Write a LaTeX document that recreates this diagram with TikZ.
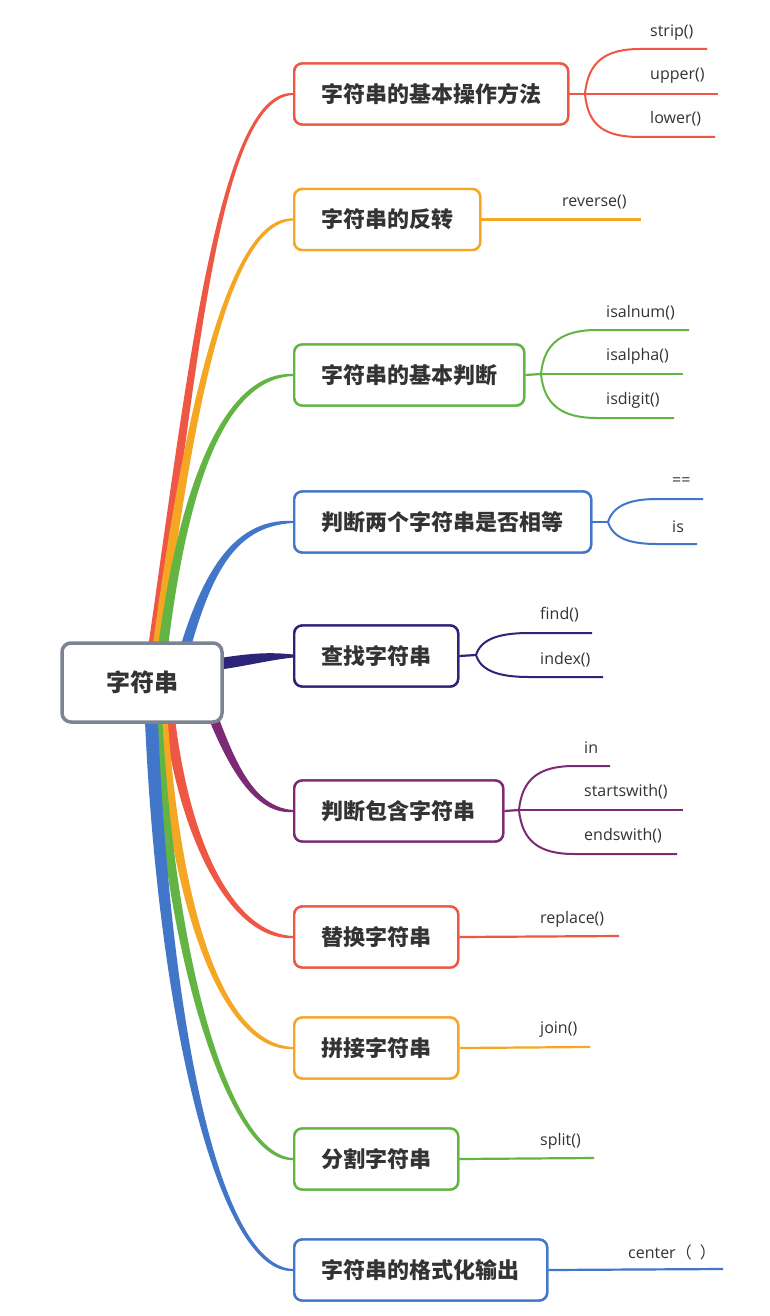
\documentclass[tikz,border=0pt]{standalone}
\usepackage{fontspec}
\setmainfont{Open Sans}
\newfontfamily\cjk{Noto Sans CJK SC}
\usetikzlibrary{calc}
\definecolor{cred}{HTML}{EE5744}
\definecolor{corange}{HTML}{F5A623}
\definecolor{cgreen}{HTML}{62B543}
\definecolor{cblue}{HTML}{4176C8}
\definecolor{cnavy}{HTML}{2C2476}
\definecolor{cpurple}{HTML}{7B2A73}
\definecolor{cgray}{HTML}{7C8393}
\definecolor{ctext}{HTML}{333333}
% #1 colour, #2 x0, #3 y0, #4 c1x, #5 c1y, #6 node, #7 c2 distance, #8 half width at root, #9 signed half width at end
\newcommand\trunk[9]{%
  \fill[#1] ({#2-#8},#3) .. controls ({#4-#8},#5) and ($(#6.west)+(-#7,{4.5*(#9)})$) .. ($(#6.west)+(0,#9)$)
    -- ($(#6.west)+(0,{-(#9)})$) .. controls ($(#6.west)+(-#7,{-4.5*(#9)})$) and ({#4+#8},#5) .. ({#2+#8},#3) -- cycle;}
\tikzset{
  box/.style={draw, line width=2.4pt, rounded corners=8pt, fill=white, minimum height=61pt,
    inner sep=0pt, font=\cjk\bfseries\fontsize{22}{22}\selectfont, text=ctext, anchor=west},
  leaf/.style={inner sep=0pt, anchor=west, text=ctext, font=\fontsize{16}{16}\selectfont},
  stub/.style={line width=2.2pt},
  leafline/.style={line width=2pt}
}
\begin{document}
\begin{tikzpicture}[x=1pt,y=-1pt]
\useasboundingbox[fill=white] (0,0) rectangle (770,1316);
% branch boxes (named first so the trunks can reach them)
\path
  (293,94)   node[box, draw=cred,    minimum width=274pt] (b1)  {字符串的基本操作方法}
  (293,219.5) node[box, draw=corange, minimum width=186pt] (b2)  {字符串的反转}
  (293,375)  node[box, draw=cgreen,  minimum width=230pt] (b3)  {字符串的基本判断}
  (293,522)  node[box, draw=cblue,   minimum width=297pt] (b4)  {判断两个字符串是否相等}
  (293,656)  node[box, draw=cnavy,   minimum width=164pt] (b5)  {查找字符串}
  (293,811)  node[box, draw=cpurple, minimum width=209pt] (b6)  {判断包含字符串}
  (293,937)  node[box, draw=cred,    minimum width=164pt] (b7)  {替换字符串}
  (293,1048) node[box, draw=corange, minimum width=164pt] (b8)  {拼接字符串}
  (293,1159) node[box, draw=cgreen,  minimum width=164pt] (b9)  {分割字符串}
  (293,1270) node[box, draw=cblue,   minimum width=253pt] (b10) {字符串的格式化输出};
% trunks
\trunk{cred}{148}{682}{190}{400}{b1}{78}{5}{-1}
\trunk{corange}{153}{682}{185}{430}{b2}{68}{5}{-1}
\trunk{cgreen}{159}{682}{178}{500}{b3}{73}{5}{-1}
\trunk{cblue}{176}{682}{202}{580}{b4}{63}{5.5}{-1}
\fill[cnavy] (200,661) .. controls (240,655) and (262,651) .. ($(b5.west)+(0,-1.5)$)
  -- ($(b5.west)+(0,1.5)$) .. controls (262,661) and (240,668) .. (200,672) -- cycle;
\trunk{cpurple}{200}{682}{225}{750}{b6}{45}{5.5}{1}
\trunk{cred}{166}{682}{176}{820}{b7}{68}{5.5}{1}
\trunk{corange}{160}{682}{171}{900}{b8}{73}{5.5}{1}
\trunk{cgreen}{155}{682}{166}{960}{b9}{63}{5.5}{1}
\trunk{cblue}{150}{682}{160}{1000}{b10}{78}{6.5}{1}
% boxes drawn again over the trunk ends
\path
  (293,94)   node[box, draw=cred,    minimum width=274pt] {字符串的基本操作方法}
  (293,219.5) node[box, draw=corange, minimum width=186pt] {字符串的反转}
  (293,375)  node[box, draw=cgreen,  minimum width=230pt] {字符串的基本判断}
  (293,522)  node[box, draw=cblue,   minimum width=297pt] {判断两个字符串是否相等}
  (293,656)  node[box, draw=cnavy,   minimum width=164pt] {查找字符串}
  (293,811)  node[box, draw=cpurple, minimum width=209pt] {判断包含字符串}
  (293,937)  node[box, draw=cred,    minimum width=164pt] {替换字符串}
  (293,1048) node[box, draw=corange, minimum width=164pt] {拼接字符串}
  (293,1159) node[box, draw=cgreen,  minimum width=164pt] {分割字符串}
  (293,1270) node[box, draw=cblue,   minimum width=253pt] {字符串的格式化输出};
% root
\node[draw=cgray, line width=3.5pt, rounded corners=9pt, fill=white, minimum width=160pt,
  minimum height=79pt, inner sep=0pt, text=ctext, font=\cjk\bfseries\fontsize{24}{24}\selectfont]
  (root) at (142,682.5) {字符串};

% ---- leaves ----
% b1
\coordinate (f1) at (585,94);
\coordinate (s1a) at (640,49);  \coordinate (e1a) at (707,49);
\coordinate (e1b) at (718,94);
\coordinate (s1c) at (640,137); \coordinate (e1c) at (715,137);
\draw[stub, cred] (b1.east) -- (f1);
\draw[leafline, cred] (f1) .. controls +(3,-32) and +(-35,0) .. (s1a) -- (e1a);
\draw[leafline, cred] (f1) -- (e1b);
\draw[leafline, cred] (f1) .. controls +(3,32) and +(-35,0) .. (s1c) -- (e1c);
\node[leaf] (l1a) at (650,33) {strip()};
\node[leaf] (l1b) at (650,76) {upper()};
\node[leaf] (l1c) at (650,119) {lower()};
% b2
\coordinate (e2) at (641,219.5);
\draw[stub, corange] (b2.east) -- (e2);
\node[leaf] (l2) at (562,202) {reverse()};
% b3
\coordinate (f3) at (541,374);
\coordinate (s3a) at (597,330);  \coordinate (e3a) at (689,330);
\coordinate (e3b) at (683,374);
\coordinate (s3c) at (597,418); \coordinate (e3c) at (674,418);
\draw[stub, cgreen] (b3.east) -- (f3);
\draw[leafline, cgreen] (f3) .. controls +(3,-31) and +(-35,0) .. (s3a) -- (e3a);
\draw[leafline, cgreen] (f3) -- (e3b);
\draw[leafline, cgreen] (f3) .. controls +(3,31) and +(-35,0) .. (s3c) -- (e3c);
\node[leaf] (l3a) at (606,313) {isalnum()};
\node[leaf] (l3b) at (606,356) {isalpha()};
\node[leaf] (l3c) at (606,400) {isdigit()};
% b4
\coordinate (f4) at (608,522);
\coordinate (s4a) at (657,499);  \coordinate (e4a) at (703,499);
\coordinate (s4c) at (657,544); \coordinate (e4c) at (697,544);
\draw[stub, cblue] (b4.east) -- (f4);
\draw[leafline, cblue] (f4) .. controls +(5,-16) and +(-28,0) .. (s4a) -- (e4a);
\draw[leafline, cblue] (f4) .. controls +(5,16) and +(-28,0) .. (s4c) -- (e4c);
\node[leaf] (l4a) at (672,482) {==};
\node[leaf] (l4b) at (672,527) {is};
% b5
\coordinate (f5) at (476,655);
\coordinate (s5a) at (529,633);  \coordinate (e5a) at (592,633);
\coordinate (s5c) at (529,677); \coordinate (e5c) at (603,677);
\draw[stub, cnavy] (b5.east) -- (f5);
\draw[leafline, cnavy] (f5) .. controls +(5,-16) and +(-30,0) .. (s5a) -- (e5a);
\draw[leafline, cnavy] (f5) .. controls +(5,16) and +(-30,0) .. (s5c) -- (e5c);
\node[leaf] (l5a) at (540,615) {find()};
\node[leaf] (l5b) at (540,660) {index()};
% b6
\coordinate (f6) at (519,810);
\coordinate (s6a) at (574,766);  \coordinate (e6a) at (610,766);
\coordinate (e6b) at (683,810);
\coordinate (s6c) at (574,854); \coordinate (e6c) at (677,854);
\draw[stub, cpurple] (b6.east) -- (f6);
\draw[leafline, cpurple] (f6) .. controls +(3,-31) and +(-35,0) .. (s6a) -- (e6a);
\draw[leafline, cpurple] (f6) -- (e6b);
\draw[leafline, cpurple] (f6) .. controls +(3,31) and +(-35,0) .. (s6c) -- (e6c);
\node[leaf] (l6a) at (584,748) {in};
\node[leaf] (l6b) at (584,792) {startswith()};
\node[leaf] (l6c) at (584,836) {endswith()};
% b7
\coordinate (e7) at (619,936);
\draw[stub, cred] (b7.east) -- (e7);
\node[leaf] (l7) at (540,919) {replace()};
% b8
\coordinate (e8) at (590,1047);
\draw[stub, corange] (b8.east) -- (e8);
\node[leaf] (l8) at (540,1030) {join()};
% b9
\coordinate (e9) at (594,1158);
\draw[stub, cgreen] (b9.east) -- (e9);
\node[leaf] (l9) at (540,1141) {split()};
% b10
\coordinate (e10) at (723,1269);
\draw[stub, cblue] (b10.east) -- (e10);
\node[leaf] (l10) at (628,1252) {center{\cjk（\hspace{8pt}）}};
\end{tikzpicture}
\end{document}
